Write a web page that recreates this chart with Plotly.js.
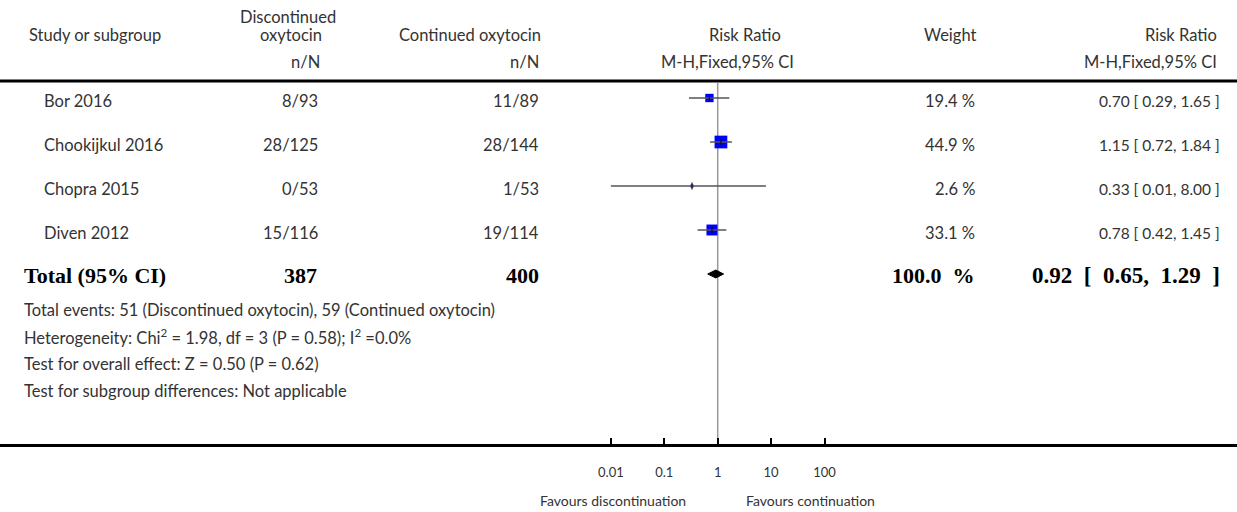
<!DOCTYPE html>
<html>
<head>
<meta charset="utf-8">
<script src="https://cdn.plot.ly/plotly-3.0.1.min.js"></script>
<style>html,body{margin:0;padding:0;background:#fff;}#chart{width:1237px;height:512px;}</style>
</head>
<body>
<div id="chart"></div>
<script>
// ---- data ----
const studies = ['Bor 2016', 'Chookijkul 2016', 'Chopra 2015', 'Diven 2012'];
const discontinuedNN = ['8/93', '28/125', '0/53', '15/116'];
const continuedNN = ['11/89', '28/144', '1/53', '19/114'];
const riskRatio = [0.70, 1.15, 0.33, 0.78];
const ciLow = [0.29, 0.72, 0.01, 0.42];
const ciHigh = [1.65, 1.84, 8.00, 1.45];
const weights = [19.4, 44.9, 2.6, 33.1];
const totalLabel = 'Total (95% CI)';
const totalDiscontinued = 387;
const totalContinued = 400;
const totalWeight = 100.0;
const totalRR = 0.92;
const totalLow = 0.65;
const totalHigh = 1.29;
const footerLines = [
  'Total events: 51 (Discontinued oxytocin), 59 (Continued oxytocin)',
  'Heterogeneity: Chi<sup>2</sup> = 1.98, df = 3 (P = 0.58); I<sup>2</sup> =0.0%',
  'Test for overall effect: Z = 0.50 (P = 0.62)',
  'Test for subgroup differences: Not applicable'
];
const tickValues = [0.01, 0.1, 1, 10, 100];
const tickLabels = ['0.01', '0.1', '1', '10', '100'];
const favoursLeft = 'Favours discontinuation';
const favoursRight = 'Favours continuation';

// ---- layout helpers ----
const W = 1237, H = 512, PLOT_H = 444;
const ROW0 = 98, ROWSTEP = 44;
const px = x => x / W;
const py = y => 1 - y / PLOT_H;
const FONT = 'Lato, "Open Sans", sans-serif';
const SERIF = '"Liberation Serif", "DejaVu Serif", serif';
const TXT = '#333';
const FS = 16.5;
const fmt2 = v => v.toFixed(2);
const rrText = (e, l, h) => fmt2(e) + ' [ ' + fmt2(l) + ', ' + fmt2(h) + ' ]';
const wide = s => s.replace(/ /g, ' \u00a0');

const ann = [];
function addText(text, x, y, anchor, opts) {
  opts = opts || {};
  ann.push({
    text: text, xref: 'paper', yref: 'paper', x: px(x), y: py(y),
    xanchor: anchor, yanchor: 'middle', showarrow: false,
    font: {family: opts.family || FONT, size: opts.size || FS, color: opts.color || TXT}
  });
}

// header
addText('Study or subgroup', 27, 35, 'left');
addText('Discontinued', 288, 17, 'center');
addText('oxytocin', 291, 35, 'center');
addText('n/N', 322, 62, 'right');
addText('Continued oxytocin', 470, 35, 'center');
addText('n/N', 541, 62, 'right');
addText('Risk Ratio', 745, 35, 'center');
addText('M-H,Fixed,95% CI', 727, 62, 'center');
addText('Weight', 950, 35, 'center');
addText('Risk Ratio', 1219, 35, 'right');
addText('M-H,Fixed,95% CI', 1219, 62, 'right');

// study rows
studies.forEach((s, i) => {
  const y = ROW0 + ROWSTEP * i + 3;
  addText(s, 42, y, 'left');
  addText(discontinuedNN[i], 320, y, 'right');
  addText(continuedNN[i], 541, y, 'right');
  addText(weights[i].toFixed(1) + ' %', 977, y, 'right');
  addText(rrText(riskRatio[i], ciLow[i], ciHigh[i]), 1222, y, 'right', {size: 15.5});
});

// total row
const totY = ROW0 + ROWSTEP * studies.length + 1;
const bold = {family: SERIF, size: 22, color: '#000'};
addText('<b>' + totalLabel + '</b>', 22, totY, 'left', bold);
addText('<b>' + totalDiscontinued + '</b>', 319, totY, 'right', bold);
addText('<b>' + totalContinued + '</b>', 541, totY, 'right', bold);
addText('<b>' + totalWeight.toFixed(1) + ' \u00a0%</b>', 977, totY, 'right', bold);
addText('<b>' + wide(rrText(totalRR, totalLow, totalHigh)) + '</b>', 1222, totY, 'right', {family: SERIF, size: 23, color: '#000'});

// footer
footerLines.forEach((t, i) => addText(t, 22, 310 + 27 * i, 'left'));

// favours
addText(favoursLeft, 688, 501, 'right', {size: 14});
addText(favoursRight, 744, 501, 'left', {size: 14});

// ---- traces ----
const rowIdx = studies.map((_, i) => i);
const squares = {
  type: 'scatter', mode: 'markers', x: riskRatio, y: rowIdx,
  marker: {symbol: 'square', color: '#0000ff', opacity: 1, size: weights.map(w => 19 * Math.sqrt(w / 100)), line: {width: 0}},
  hoverinfo: 'skip', showlegend: false
};
const ciX = [], ciY = [];
studies.forEach((_, i) => { ciX.push(ciLow[i], ciHigh[i], null); ciY.push(i, i, null); });
const ciLines = {
  type: 'scatter', mode: 'lines', x: ciX, y: ciY,
  line: {color: '#555', width: 1.5}, hoverinfo: 'skip', showlegend: false
};
const estTicks = {
  type: 'scatter', mode: 'markers', x: riskRatio, y: rowIdx,
  marker: {symbol: 'line-ns', size: 5, line: {color: '#111', width: 1.2}},
  hoverinfo: 'skip', showlegend: false
};
const ti = studies.length, dh = 0.09;
const diamond = {
  type: 'scatter', mode: 'lines', fill: 'toself', fillcolor: '#000',
  x: [totalLow, totalRR, totalHigh, totalRR, totalLow],
  y: [ti, ti - dh, ti, ti + dh, ti],
  line: {color: '#000', width: 1}, hoverinfo: 'skip', showlegend: false
};

const decade = 53.4, center = 717.7;
const layout = {
  width: W, height: H,
  margin: {l: 0, r: 0, t: 0, b: H - PLOT_H, pad: 0},
  paper_bgcolor: '#fff', plot_bgcolor: '#fff',
  showlegend: false,
  xaxis: {
    type: 'log', range: [-center / decade, (W - center) / decade],
    showline: true, linewidth: 3, linecolor: '#000',
    ticks: 'inside', ticklen: 6, tickwidth: 2, tickcolor: '#000',
    tickvals: tickValues, ticktext: tickLabels,
    tickfont: {family: FONT, size: 13, color: TXT},
    ticklabelstandoff: 14,
    showgrid: false, zeroline: false, fixedrange: true
  },
  yaxis: {
    range: [(PLOT_H - ROW0) / ROWSTEP, -ROW0 / ROWSTEP],
    visible: false, showgrid: false, zeroline: false, fixedrange: true
  },
  shapes: [
    {type: 'line', xref: 'paper', yref: 'paper', x0: 0, x1: 1, y0: py(81), y1: py(81), line: {color: '#000', width: 3}},
    {type: 'line', xref: 'x', yref: 'paper', x0: 1, x1: 1, y0: py(83), y1: 0, layer: 'below', line: {color: '#999', width: 1.5}}
  ],
  annotations: ann
};

Plotly.newPlot('chart', [squares, ciLines, estTicks, diamond], layout, {staticPlot: true, displayModeBar: false});
</script>
</body>
</html>
